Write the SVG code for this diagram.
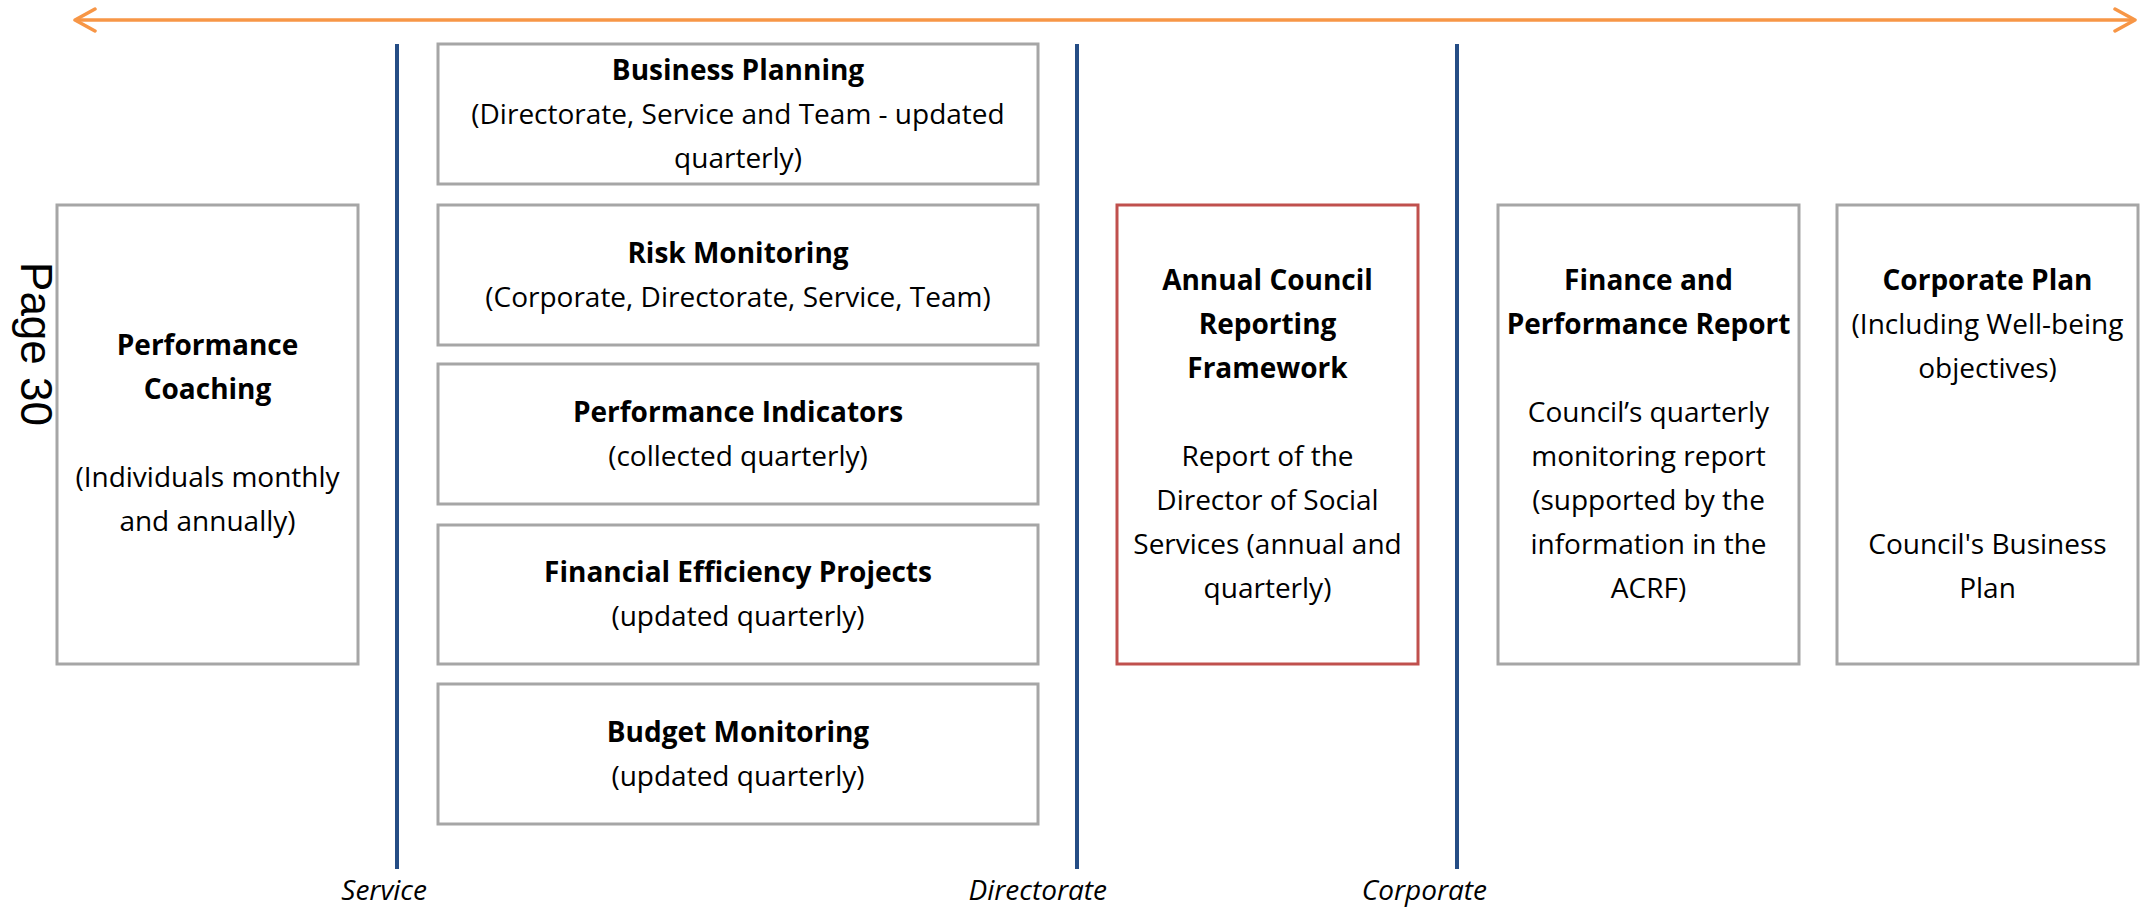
<svg xmlns="http://www.w3.org/2000/svg" width="2152" height="908" viewBox="0 0 2152 908">
<style>
.box{fill:#FFFFFF;stroke:#A6A6A6;stroke-width:3}
.red{fill:#FFFFFF;stroke:#C0504D;stroke-width:3}
.sep{stroke:#254D85;stroke-width:4}
.t{font-family:"Open Sans","Noto Sans","DejaVu Sans",sans-serif;font-size:28px;fill:#000;text-anchor:middle}
.b{font-weight:700}
.lab{font-family:"Open Sans","Noto Sans","DejaVu Sans",sans-serif;font-size:28px;font-style:italic;fill:#000;text-anchor:end}
</style>
<defs>
<marker id="chev" markerUnits="userSpaceOnUse" markerWidth="26" markerHeight="28" viewBox="0 0 26 28" refX="22" refY="14" orient="auto-start-reverse">
<path d="M2,3 L22,14 L2,25" fill="none" stroke="#F79646" stroke-width="3.5" stroke-linecap="round" stroke-linejoin="round"/>
</marker>
</defs>
<rect width="2152" height="908" fill="#FFFFFF"/>
<g id="connectors">
<line x1="75" y1="20" x2="2135" y2="20" stroke="#F79646" stroke-width="3.5" marker-start="url(#chev)" marker-end="url(#chev)"/>
<line class="sep" x1="397" y1="44" x2="397" y2="869"/>
<line class="sep" x1="1077" y1="44" x2="1077" y2="869"/>
<line class="sep" x1="1457" y1="44" x2="1457" y2="869"/>
</g>
<g id="page-label">
<text transform="translate(21,344) rotate(90)" font-family="'Liberation Sans',Arial,sans-serif" font-size="44" text-anchor="middle" fill="#000">Page 30</text>
</g>
<g id="level-labels">
<text class="lab" x="427" y="900">Service</text>
<text class="lab" x="1107" y="900">Directorate</text>
<text class="lab" x="1487" y="900">Corporate</text>
</g>
<g id="performance-coaching">
<rect class="box" x="57" y="205" width="301" height="459"/>
<text class="t b" x="207.5" y="355">Performance</text>
<text class="t b" x="207.5" y="399">Coaching</text>
<text class="t" x="207.5" y="487">(Individuals monthly</text>
<text class="t" x="207.5" y="531">and annually)</text>
</g>
<g id="business-planning">
<rect class="box" x="438" y="44" width="600" height="140"/>
<text class="t b" x="738" y="80">Business Planning</text>
<text class="t" x="738" y="124">(Directorate, Service and Team - updated</text>
<text class="t" x="738" y="168">quarterly)</text>
</g>
<g id="risk-monitoring">
<rect class="box" x="438" y="205" width="600" height="140"/>
<text class="t b" x="738" y="263">Risk Monitoring</text>
<text class="t" x="738" y="307">(Corporate, Directorate, Service, Team)</text>
</g>
<g id="performance-indicators">
<rect class="box" x="438" y="364" width="600" height="140"/>
<text class="t b" x="738" y="422">Performance Indicators</text>
<text class="t" x="738" y="466">(collected quarterly)</text>
</g>
<g id="financial-efficiency">
<rect class="box" x="438" y="525" width="600" height="139"/>
<text class="t b" x="738" y="582">Financial Efficiency Projects</text>
<text class="t" x="738" y="626">(updated quarterly)</text>
</g>
<g id="budget-monitoring">
<rect class="box" x="438" y="684" width="600" height="140"/>
<text class="t b" x="738" y="742">Budget Monitoring</text>
<text class="t" x="738" y="786">(updated quarterly)</text>
</g>
<g id="annual-council">
<rect class="red" x="1117" y="205" width="301" height="459"/>
<text class="t b" x="1267.5" y="290">Annual Council</text>
<text class="t b" x="1267.5" y="334">Reporting</text>
<text class="t b" x="1267.5" y="378">Framework</text>
<text class="t" x="1267.5" y="466">Report of the</text>
<text class="t" x="1267.5" y="510">Director of Social</text>
<text class="t" x="1267.5" y="554">Services (annual and</text>
<text class="t" x="1267.5" y="598">quarterly)</text>
</g>
<g id="finance-performance">
<rect class="box" x="1498" y="205" width="301" height="459"/>
<text class="t b" x="1648.5" y="290">Finance and</text>
<text class="t b" x="1648.5" y="334">Performance Report</text>
<text class="t" x="1648.5" y="422">Council’s quarterly</text>
<text class="t" x="1648.5" y="466">monitoring report</text>
<text class="t" x="1648.5" y="510">(supported by the</text>
<text class="t" x="1648.5" y="554">information in the</text>
<text class="t" x="1648.5" y="598">ACRF)</text>
</g>
<g id="corporate-plan">
<rect class="box" x="1837" y="205" width="301" height="459"/>
<text class="t b" x="1987.5" y="290">Corporate Plan</text>
<text class="t" x="1987.5" y="334">(Including Well-being</text>
<text class="t" x="1987.5" y="378">objectives)</text>
<text class="t" x="1987.5" y="554">Council's Business</text>
<text class="t" x="1987.5" y="598">Plan</text>
</g>
</svg>
